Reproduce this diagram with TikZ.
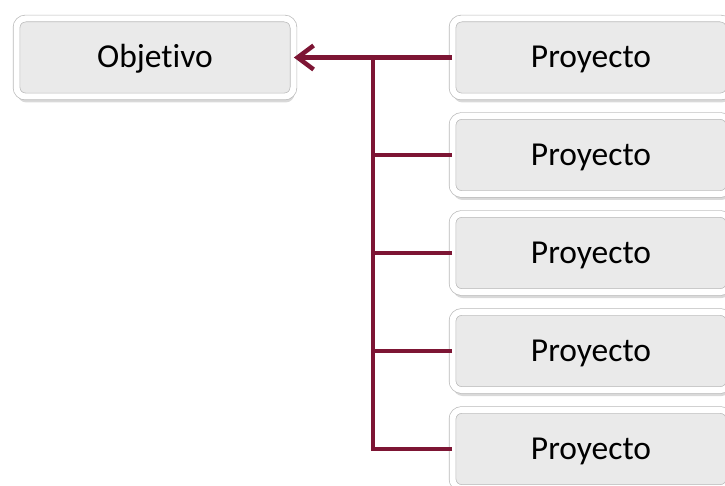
\documentclass[tikz,border=0pt]{standalone}
\usepackage{fontspec}
\setmainfont[Ligatures=NoCommon]{Carlito}
\usetikzlibrary{arrows.meta,shadows}
\definecolor{linkred}{RGB}{125,21,52}
\definecolor{boxgray}{RGB}{234,234,234}
\tikzset{
  blok/.style={rectangle,rounded corners=9pt,fill=boxgray,draw=gray!55,line width=.7pt,
    double=white,double distance=6pt,minimum width=277pt,minimum height=78pt,inner sep=0pt,
    text height=25pt,text depth=4pt,font=\fontsize{33.5}{40}\selectfont,
    drop shadow={opacity=.3,shadow xshift=1pt,shadow yshift=-6pt}},
  link/.style={draw=linkred,line width=4.5pt}
}

\begin{document}
\begin{tikzpicture}[x=1pt,y=-1pt]
\useasboundingbox (0,0) rectangle (725,486);
\node[blok] (obj) at (155,57.5) {Objetivo};
%
\node[blok] (p1) at (591,57.5) {Proyecto};
\node[blok] (p2) at (591,155) {Proyecto};
\node[blok] (p3) at (591,253) {Proyecto};
\node[blok] (p4) at (591,351) {Proyecto};
\node[blok] (p5) at (591,449) {Proyecto};
\coordinate (junc) at (373,57.5);
%%
\draw[link,-{Straight Barb[length=16pt,width=24pt]}] (p1.west) -- (obj.east);
\draw[link] (p2.west) -| (junc) (p3.west) -| (junc) (p4.west) -| (junc)
 (p5.west) -| (junc);
\end{tikzpicture}
\end{document}
